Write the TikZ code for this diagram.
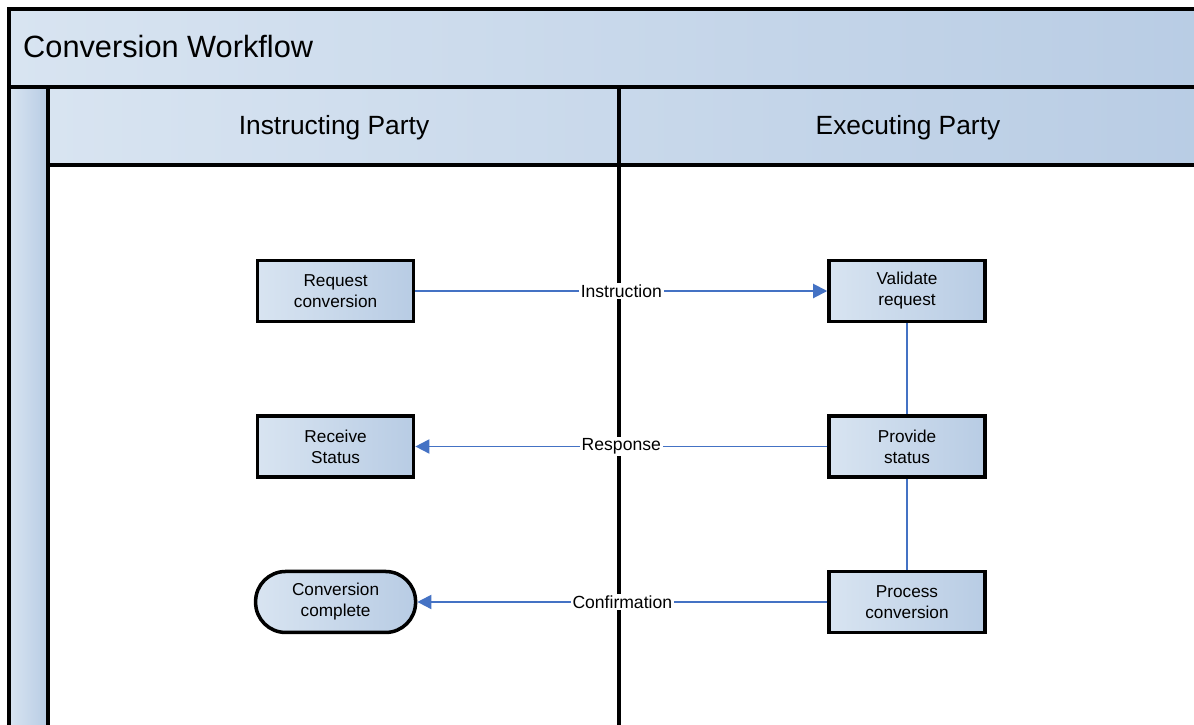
\documentclass[tikz,border=0pt]{standalone}
\usepackage{fontspec}
\setsansfont{Liberation Sans}
\usetikzlibrary{positioning}
\usetikzlibrary{chains}
\usetikzlibrary{arrows.meta}
\definecolor{shadelight}{RGB}{216,228,241}
\definecolor{shadedark}{RGB}{184,204,228}
\definecolor{flowblue}{RGB}{68,114,196}
\tikzset{
	>={Triangle[length=8pt,width=8pt]},
	lane/.style={
		draw=black, line width=2.3pt,
		left color=shadelight, right color=shadedark},
	stepbox/.style={
		rectangle,
		draw=black, line width=2pt,
		left color=shadelight, right color=shadedark,
		minimum width=3.12cm,
		minimum height=1.22cm,
		align=center,
		font=\sffamily\fontsize{9.8}{12}\selectfont},
	endbox/.style={stepbox, rounded corners=0.6cm, minimum width=3.2cm},
	flow/.style={draw=flowblue, line width=1.1pt},
	every join/.style={flow},
	msg/.style={midway, fill=white, inner sep=1pt, font=\sffamily\fontsize{10}{12}\selectfont},
}

\begin{document}
\begin{tikzpicture}
	[x=0.02cm, y=-0.02cm, node distance=1.82cm,
	start chain=going below, font=\sffamily]
	\useasboundingbox (0,0) rectangle (1194,724);
	\clip (0,0) rectangle (1194,724);

	% pool and lanes
	\path[lane] (9,9) rectangle (1230,87);
	\path[lane] (9,87) rectangle (48,760);
	\path[lane] (48,87) rectangle (1230,165);
	\draw[line width=2.3pt] (619,87) -- (619,760);
	\node[anchor=west, font=\sffamily\fontsize{17.5}{20}\selectfont] (pooltitle) at (17,47) {Conversion Workflow};
	\node[font=\sffamily\fontsize{15}{18}\selectfont] (instr) at (334,128) {Instructing Party};
	\node[font=\sffamily\fontsize{15}{18}\selectfont] (exec) at (908,128) {Executing Party};

	% executing party
	\node[stepbox, on chain] (valid) at (907,291) {Validate\\request};
	\node[stepbox, on chain, join] (provide) {Provide\\status};
	\node[stepbox, on chain, join] (process) {Process\\conversion};

	% instructing party
	\node[stepbox, left=8.24cm of valid] (request) {Request\\conversion};
	\node[stepbox, left=8.24cm of provide] (receive) {Receive\\Status};
	\node[endbox, left=8.2cm of process] (done) {Conversion\\complete};

	\draw[flow, ->] (request) -- node[msg] {Instruction} (valid);
	\draw[flow, ->] (provide) -- node[msg] {Response} (receive);
	\draw[flow, ->] (process) -- node[msg] {Confirmation} (done);
\end{tikzpicture}
\end{document}
